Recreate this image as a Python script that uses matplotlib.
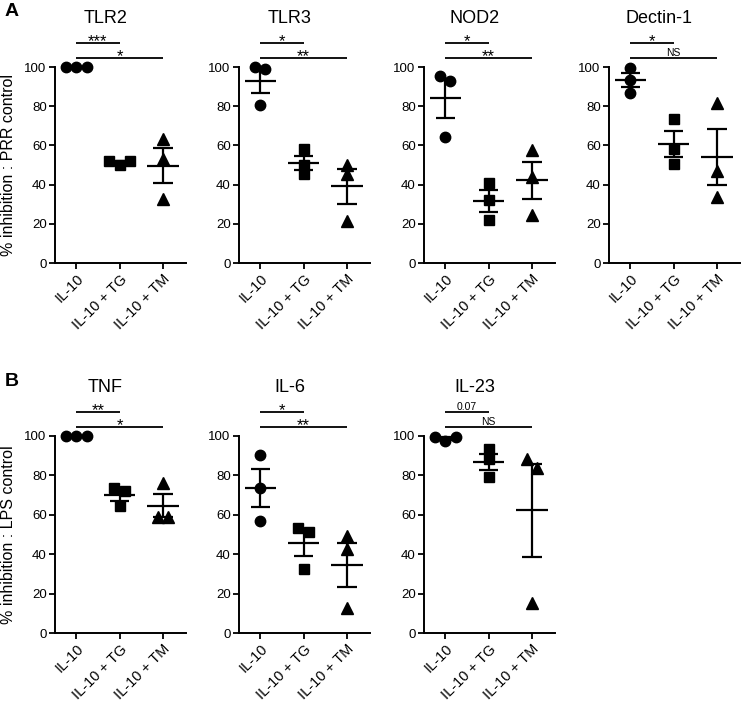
# Recriar figura: % de inibição com IL-10 (painel A: PRR, painel B: LPS)
import numpy as np
import matplotlib
matplotlib.use('Agg')
import matplotlib.pyplot as plt

plt.rcParams['font.family'] = ['Liberation Sans', 'DejaVu Sans']

groups = ['IL-10', 'IL-10 + TG', 'IL-10 + TM']

# Painel A (3 réplicas por grupo)
tlr2 = [[100, 100, 100], [52, 50, 52], [63.5, 53, 32.5]]
tlr3 = [[100, 98.8, 80.5], [58, 50, 45.2], [50.2, 45.6, 21.5]]
nod2 = [[95.2, 92.7, 64.3], [40.8, 32, 22], [57.8, 43.9, 24.7]]
dectin1 = [[99.7, 93.5, 86.7], [73.5, 58, 50.7], [81.6, 46.9, 33.7]]

# Painel B
tnf = [[100, 100, 100], [73.6, 72, 64.5], [59, 76, 59]]
il6 = [[90.2, 73.4, 57.1], [53.4, 51.3, 32.4], [49.1, 42.4, 12.6]]
il23 = [[99.3, 97.5, 99.3], [93.2, 88.1, 79], [88.1, 83.6, 15.3]]

titles_a = ['TLR2', 'TLR3', 'NOD2', 'Dectin-1']
titles_b = ['TNF', 'IL-6', 'IL-23']
sig_a = [['***', '*'], ['*', '**'], ['*', '**'], ['*', 'NS']]
sig_b = [['**', '*'], ['*', '**'], ['0.07', 'NS']]

markers = ['o', 's', '^']
msizes = [7.5, 7, 8]


def spread(vals, thr=4.6, step=0.24):
    # espalha pontos que se sobrepõem (estilo GraphPad)
    vals = np.asarray(vals, float)
    order = np.argsort(vals, kind='stable')
    off = np.zeros(len(vals))
    clusters = []
    cur = [order[0]]
    for i in order[1:]:
        if vals[i] - vals[cur[-1]] < thr:
            cur.append(i)
        else:
            clusters.append(cur)
            cur = [i]
    clusters.append(cur)
    for c in clusters:
        c = sorted(c)
        n = len(c)
        for k, i in enumerate(c):
            off[i] = (k - (n - 1) / 2) * step
    return off


def painel(ax, dados, titulo, sig, ylabel=None):
    for g, vals in enumerate(dados):
        vals = np.asarray(vals, float)
        off = spread(vals)
        ax.plot(g + off, vals, linestyle='none', marker=markers[g], ms=msizes[g],
                color='black', clip_on=False, zorder=3)
        m = vals.mean()
        sem = vals.std(ddof=1) / np.sqrt(len(vals))
        ax.hlines(m, g - 0.36, g + 0.36, color='black', lw=1.6, zorder=4, clip_on=False)
        ax.vlines(g, m - sem, m + sem, color='black', lw=1.6, zorder=4, clip_on=False)
        for yy in (m - sem, m + sem):
            ax.hlines(yy, g - 0.22, g + 0.22, color='black', lw=1.6, zorder=4, clip_on=False)

    # barras de significância
    for (x2, yb), txt in zip([(1, 112.2), (2, 104.5)], sig):
        ax.hlines(yb, 0, x2, color='black', lw=1.3, clip_on=False)
        if txt in ('NS', '0.07'):
            ax.text(x2 / 2, yb + 1.0, txt, ha='center', va='baseline', fontsize=7.5)
        else:
            ax.text(x2 / 2, yb - 1.5, txt, ha='center', va='baseline', fontsize=12)

    ax.set_xlim(-0.49, 2.53)
    ax.set_ylim(0, 100)
    ax.set_yticks(range(0, 101, 20))
    ax.set_xticks(range(3))
    ax.set_xticklabels(groups, rotation=45, ha='right', rotation_mode='anchor')
    ax.tick_params(axis='both', direction='out', length=4.5, width=1.3, labelsize=9.5, pad=1.5)
    ax.tick_params(axis='x', labelsize=10.5, pad=2)
    for s in ['top', 'right']:
        ax.spines[s].set_visible(False)
    for s in ['left', 'bottom']:
        ax.spines[s].set_linewidth(1.4)
    ax.text(0.385, 124.5, titulo, transform=ax.get_yaxis_transform(),
            ha='center', va='center', fontsize=13)
    if ylabel:
        ax.set_ylabel(ylabel, fontsize=11.5)
        ax.yaxis.set_label_coords(-0.295, 0.5)


fig = plt.figure(figsize=(7.43, 7.08), dpi=100)
W, H = 743, 708
lefts = [55, 239, 424, 609]
for i in range(4):
    ax = fig.add_axes([lefts[i] / W, 1 - 263 / H, 131 / W, 196 / H])
    painel(ax, [tlr2, tlr3, nod2, dectin1][i], titles_a[i], sig_a[i],
           '% inhibition : PRR control' if i == 0 else None)
for i in range(3):
    ax = fig.add_axes([lefts[i] / W, 1 - 633 / H, 131 / W, 197 / H])
    painel(ax, [tnf, il6, il23][i], titles_b[i], sig_b[i],
           '% inhibition : LPS control' if i == 0 else None)

fig.text(12 / W, 1 - 12 / H, 'A', fontsize=14, fontweight='bold', ha='center', va='center')
fig.text(12 / W, 1 - 382 / H, 'B', fontsize=14, fontweight='bold', ha='center', va='center')

plt.savefig('out.png', dpi=100)
